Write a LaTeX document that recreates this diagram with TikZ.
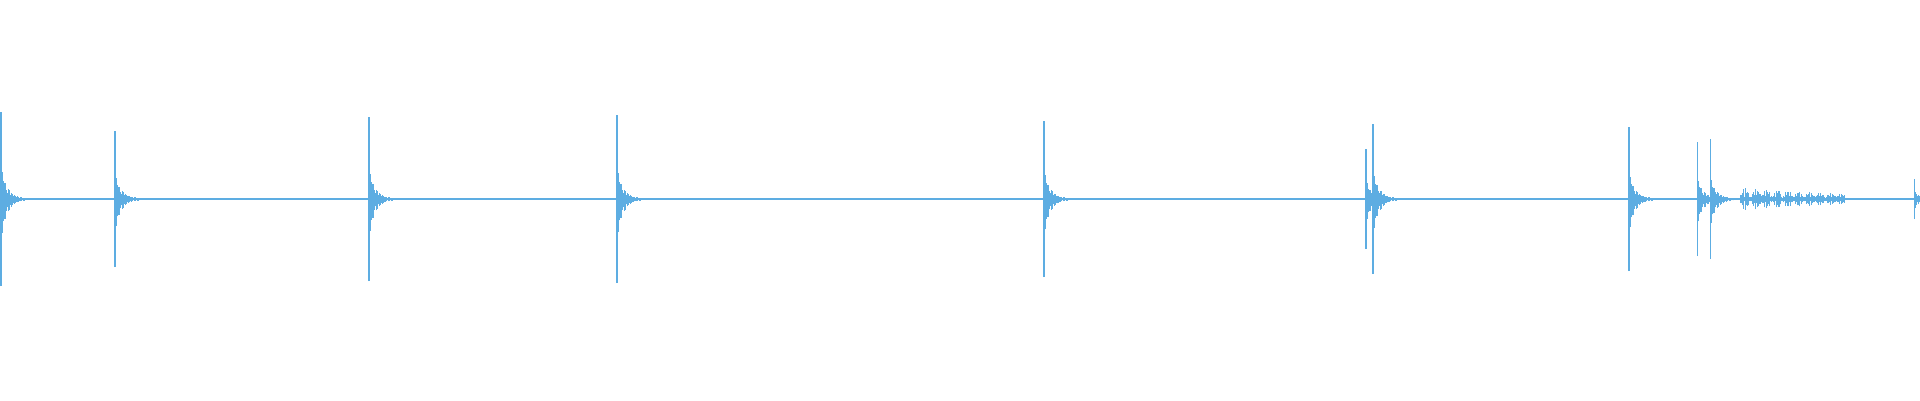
\documentclass[tikz,border=0pt]{standalone}
\definecolor{wave}{HTML}{5DADE2}
\tikzset{
wave line/.style={draw=wave, line width=0.3pt},
}
% one click: main spike and a short decaying ring
\newcommand{\burst}[2]{%
  \draw[wave line] (#1,2.01-#2) -- (#1,2.01+#2);
  \foreach \i in {1,...,30}{%
    \pgfmathsetmacro\a{#2*0.5*exp(-\i/7)*(0.3+0.7*abs(sin(\i*47)))+0.01}
    \draw[wave line] (#1+\i*0.008,2.01-\a) -- (#1+\i*0.008,2.01+0.8*\a);
  }}
\begin{document}
\begin{tikzpicture}
\useasboundingbox (0,0) rectangle (19.2,4);
% baseline
\draw[wave, line width=0.5pt] (0,2.01) -- (19.2,2.01);
\burst{0.01}{0.87}
\burst{1.15}{0.68}
\burst{3.69}{0.82}
\burst{6.17}{0.84}
\burst{10.44}{0.78}
\burst{13.66}{0.5}
\burst{13.73}{0.75}
\burst{16.29}{0.72}
\burst{16.97}{0.57}
\burst{17.10}{0.6}
\burst{19.14}{0.2}
% buzzing stretch
\foreach \i in {0,...,110}{%
  \pgfmathsetmacro\a{0.015+0.1*abs(sin(\i*16))*abs(sin(\i*73))*(1-\i/170)}
  \draw[wave line] (17.40+\i*0.0095,2.01-\a) -- (17.40+\i*0.0095,2.01+\a);
}
\end{tikzpicture}
\end{document}
